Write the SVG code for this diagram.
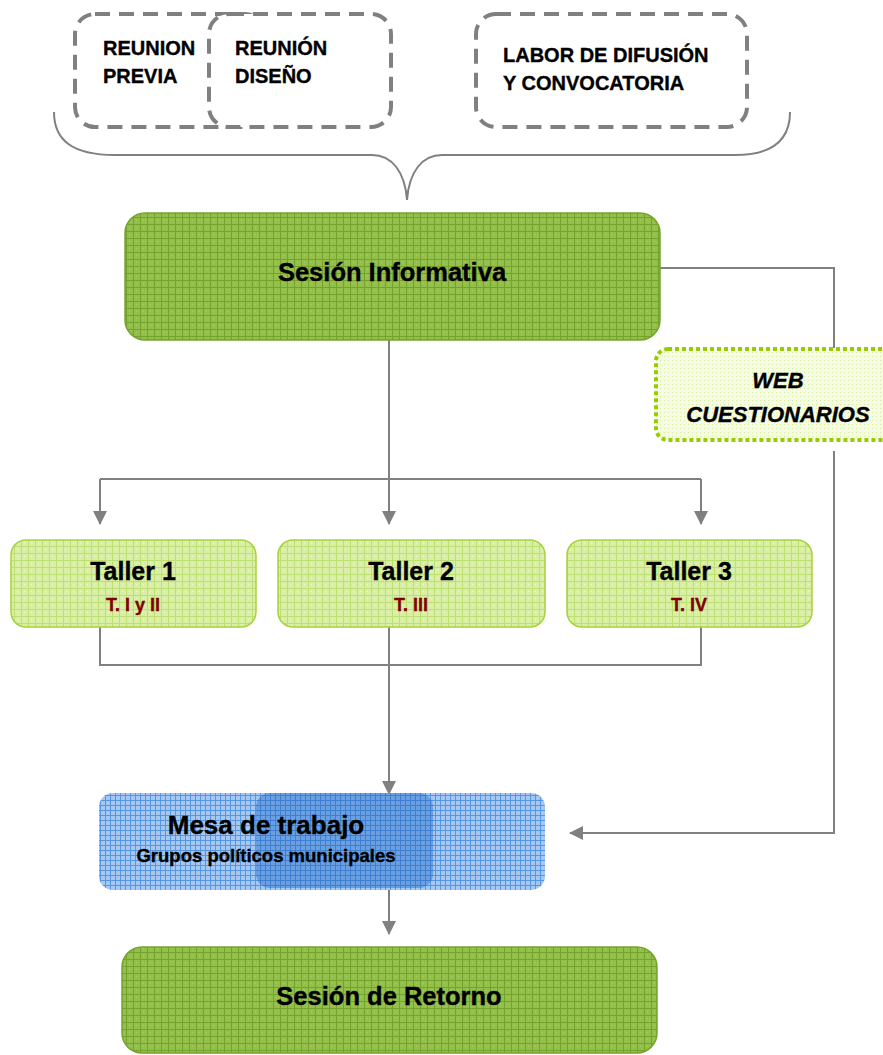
<svg xmlns="http://www.w3.org/2000/svg" width="883" height="1055" viewBox="0 0 883 1055">
<style>
.t{font-family:"Liberation Sans",Arial,sans-serif;font-weight:bold;fill:#000;stroke:#000;stroke-width:0.35}
.red{fill:#800000;stroke:#800000}
.dash{fill:#fff;stroke:#808080;stroke-width:4;stroke-dasharray:15 9}
.ln{fill:none;stroke:#808080;stroke-width:2}
.dg{stroke:#76a32e;stroke-width:1.5}
.lg{stroke:#a6d23c;stroke-width:1.5}
</style>
<defs>
<pattern id="pG" width="7" height="7" patternUnits="userSpaceOnUse">
<rect width="7" height="7" fill="#93bf4b"/>
<path d="M0,0.5H7M0.5,0V7" stroke="#74a22c" stroke-width="1"/>
<rect x="3" y="3" width="1" height="1" fill="#a8cd6a"/>
</pattern>
<pattern id="pL" width="7" height="7" patternUnits="userSpaceOnUse">
<rect width="7" height="7" fill="#d9efa6"/>
<path d="M0,0.5H7M0.5,0V7" stroke="#bddf73" stroke-width="1"/>
<rect x="3" y="3" width="1" height="1" fill="#eef8d6"/>
</pattern>
<pattern id="pW" width="4" height="4" patternUnits="userSpaceOnUse">
<rect width="4" height="4" fill="#f6fbe6"/>
<rect x="0" y="0" width="1" height="1" fill="#d6eca0"/>
</pattern>
<pattern id="pB" width="5" height="5" patternUnits="userSpaceOnUse">
<rect width="5" height="5" fill="#a6c8f0"/>
<path d="M0,0.5H5M0.5,0V5" stroke="#5596e2" stroke-width="1"/>
</pattern>
<pattern id="pD" width="5" height="5" patternUnits="userSpaceOnUse">
<rect width="5" height="5" fill="#6a9fe2"/>
<path d="M0,0.5H5M0.5,0V5" stroke="#3f7fd2" stroke-width="1"/>
</pattern>
<marker id="ah" markerWidth="14" markerHeight="14" viewBox="0 0 14 14" refX="13" refY="7" orient="auto" markerUnits="userSpaceOnUse">
<path d="M0,0L14,7L0,14Z" fill="#808080"/>
</marker>
</defs>

<g id="connectors">
<path class="ln" d="M54,112C54,140 72,155 115,155L372,155C392,155 405,172 407,200C409,172 422,155 442,155L735,155C772,155 790,140 790,112"/>
<path class="ln" d="M660,268H834V348"/>
<path class="ln" d="M834,451V833H570" marker-end="url(#ah)"/>
<path class="ln" d="M389,340V524" marker-end="url(#ah)"/>
<path class="ln" d="M100,479H701"/>
<path class="ln" d="M100,479V524" marker-end="url(#ah)"/>
<path class="ln" d="M701,479V524" marker-end="url(#ah)"/>
<path class="ln" d="M100,627V665H701V627"/>
<path class="ln" d="M389,627V794" marker-end="url(#ah)"/>
<path class="ln" d="M389,890V934" marker-end="url(#ah)"/>
</g>

<g id="reunion-previa">
<rect class="dash" x="75" y="14" width="190" height="113" rx="20"/>
<text class="t" font-size="20" x="103" y="55">REUNION</text>
<text class="t" font-size="20" x="103" y="83">PREVIA</text>
</g>
<g id="reunion-diseno">
<rect class="dash" x="209" y="14" width="182" height="113" rx="20"/>
<text class="t" font-size="20" x="235" y="55">REUNIÓN</text>
<text class="t" font-size="20" x="235" y="83">DISEÑO</text>
</g>
<g id="labor-difusion">
<rect class="dash" x="476" y="14" width="271" height="113" rx="20"/>
<text class="t" font-size="20" x="503" y="62">LABOR DE DIFUSIÓN</text>
<text class="t" font-size="20" x="503" y="90">Y CONVOCATORIA</text>
</g>

<g id="sesion-informativa">
<rect class="dg" x="125" y="213" width="535" height="127" rx="20" fill="url(#pG)"/>
<text class="t" font-size="25.5" x="392" y="281" text-anchor="middle">Sesión Informativa</text>
</g>

<g id="web-cuestionarios">
<rect x="656" y="349" width="240" height="91" rx="12" fill="url(#pW)" stroke="#99cc00" stroke-width="4" stroke-dasharray="4 3"/>
<text class="t" font-size="22" font-style="italic" x="778" y="388" text-anchor="middle">WEB</text>
<text class="t" font-size="22" font-style="italic" x="778" y="422" text-anchor="middle">CUESTIONARIOS</text>
</g>

<g id="taller-1">
<rect class="lg" x="11" y="540" width="245" height="87" rx="15" fill="url(#pL)"/>
<text class="t" font-size="25" x="133" y="580" text-anchor="middle">Taller 1</text>
<text class="t red" font-size="18" x="133" y="611" text-anchor="middle">T. I y II</text>
</g>
<g id="taller-2">
<rect class="lg" x="278" y="540" width="267" height="87" rx="15" fill="url(#pL)"/>
<text class="t" font-size="25" x="411" y="580" text-anchor="middle">Taller 2</text>
<text class="t red" font-size="18" x="411" y="611" text-anchor="middle">T. III</text>
</g>
<g id="taller-3">
<rect class="lg" x="567" y="540" width="245" height="87" rx="15" fill="url(#pL)"/>
<text class="t" font-size="25" x="689" y="580" text-anchor="middle">Taller 3</text>
<text class="t red" font-size="18" x="689" y="611" text-anchor="middle">T. IV</text>
</g>

<g id="mesa-trabajo">
<rect x="99" y="793" width="446" height="97" rx="14" fill="url(#pB)"/>
<rect x="256" y="793" width="177" height="95" rx="14" fill="url(#pD)"/>
<text class="t" font-size="26" x="266" y="834" text-anchor="middle">Mesa de trabajo</text>
<text class="t" font-size="18.5" x="266" y="862" text-anchor="middle">Grupos políticos municipales</text>
</g>

<g id="sesion-retorno">
<rect class="dg" x="122" y="947" width="535" height="106" rx="20" fill="url(#pG)"/>
<text class="t" font-size="25.5" x="389" y="1005" text-anchor="middle">Sesión de Retorno</text>
</g>
</svg>
